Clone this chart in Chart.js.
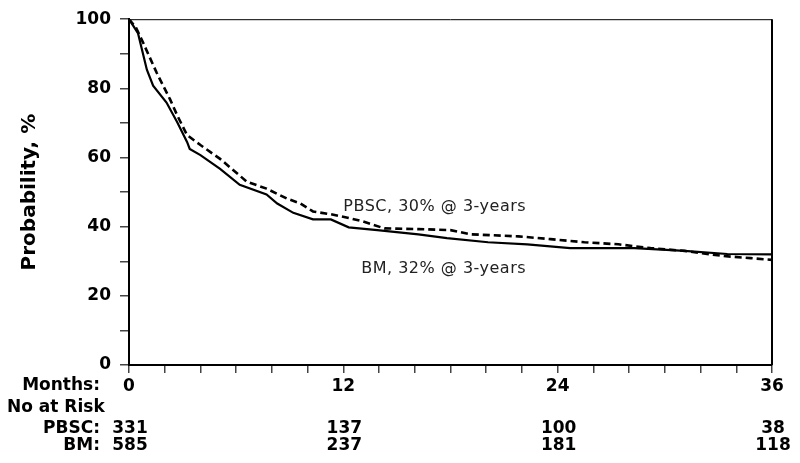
<!DOCTYPE html>
<html><head><meta charset="utf-8">
<script src="https://cdn.jsdelivr.net/npm/chart.js@4/dist/chart.umd.min.js"></script>
<style>html,body{margin:0;padding:0;background:#fff;}canvas{display:block}</style>
</head><body>
<canvas id="c" width="800" height="463"></canvas>
<script>
// ---- data ----
const bmMonths = [0, 0.5, 1.0, 1.35, 2.1, 2.7, 3.25, 3.4, 4.0, 5.1, 6.2, 7.7, 8.3, 9.2, 10.3, 11.3, 12.3, 13.9, 16.2, 17.8, 20.1, 22.3, 24.7, 28.3, 31.1, 33.5, 36];
const bmProb   = [100, 96, 85.4, 80.8, 75.9, 70.2, 64.5, 62.5, 60.7, 56.7, 52.1, 49.3, 46.7, 44.0, 42.1, 42.1, 39.8, 39.0, 37.8, 36.7, 35.5, 34.9, 33.8, 33.8, 33.0, 32.1, 32.0];
const pbscMonths = [0, 0.4, 0.8, 1.55, 2.3, 2.7, 3.25, 4.0, 5.1, 6.6, 7.7, 8.85, 9.6, 10.3, 11.3, 12.4, 13.1, 14.3, 16.2, 18, 19.1, 21.8, 23.6, 25.5, 27.4, 29.2, 31.1, 33.3, 34.8, 36];
const pbscProb   = [100, 97.5, 93.1, 84.5, 76.8, 72.2, 66.5, 63.6, 59.6, 53.0, 51.0, 48.1, 46.7, 44.4, 43.6, 42.4, 41.5, 39.5, 39.3, 39.0, 37.8, 37.2, 36.4, 35.5, 34.9, 33.8, 33.0, 31.5, 30.9, 30.4];
const xTickLabels = [0, 12, 24, 36];
const yTickLabels = [0, 20, 40, 60, 80, 100];
const riskMonths = [0, 12, 24, 36];
const pbscAtRisk = [331, 137, 100, 38];
const bmAtRisk   = [585, 237, 181, 118];
const pbscNote = 'PBSC, 30% @ 3-years';
const bmNote   = 'BM, 32% @ 3-years';

const toXY = (xs, ys) => xs.map((x, i) => ({x, y: ys[i]}));
const BOLD = 'bold 17px "DejaVu Sans"';

const framePlugin = {
  id: 'frame',
  afterDatasetsDraw(chart) {
    const {ctx, chartArea: a} = chart;
    ctx.save();
    ctx.strokeStyle = '#000';
    ctx.lineWidth = 1;
    ctx.beginPath(); ctx.moveTo(a.left, a.top + 0.5); ctx.lineTo(a.right, a.top + 0.5); ctx.stroke();
    ctx.lineWidth = 2;
    ctx.beginPath(); ctx.moveTo(a.right, a.top); ctx.lineTo(a.right, a.bottom); ctx.stroke();
    ctx.restore();
  }
};

const textPlugin = {
  id: 'texts',
  afterDraw(chart) {
    const {ctx, chartArea: a, scales} = chart;
    const xs = scales.x, ys = scales.y;
    ctx.save();
    // annotations
    ctx.font = '16px "DejaVu Sans"';
    if ('letterSpacing' in ctx) ctx.letterSpacing = '0.5px';
    ctx.fillStyle = '#222';
    ctx.textBaseline = 'middle';
    ctx.textAlign = 'left';
    ctx.fillText(pbscNote, xs.getPixelForValue(12.0), ys.getPixelForValue(45.6));
    ctx.fillText(bmNote, xs.getPixelForValue(13.0), ys.getPixelForValue(27.8));
    if ('letterSpacing' in ctx) ctx.letterSpacing = '0px';
    // table
    ctx.font = BOLD;
    ctx.fillStyle = '#000';
    const labX = 100;
    ctx.textAlign = 'right';
    ctx.fillText('Months:', labX, a.bottom + 21);
    ctx.fillText('PBSC:', labX, a.bottom + 64);
    ctx.fillText('BM:', labX, a.bottom + 81);
    ctx.textAlign = 'left';
    ctx.fillText('No at Risk', 7, a.bottom + 43);
    ctx.textAlign = 'center';
    riskMonths.forEach((m, i) => {
      const px = xs.getPixelForValue(m) + 1;
      ctx.fillText(String(pbscAtRisk[i]), px, a.bottom + 64);
      ctx.fillText(String(bmAtRisk[i]), px, a.bottom + 81);
    });
    ctx.restore();
  }
};

new Chart(document.getElementById('c'), {
  type: 'line',
  data: {
    datasets: [
      {label: 'BM', data: toXY(bmMonths, bmProb), borderColor: '#000', borderWidth: 2.2, pointRadius: 0, fill: false, tension: 0},
      {label: 'PBSC', data: toXY(pbscMonths, pbscProb), borderColor: '#000', borderWidth: 2.6, borderDash: [7, 4], pointRadius: 0, fill: false, tension: 0}
    ]
  },
  options: {
    responsive: false,
    animation: false,
    devicePixelRatio: 1,
    layout: {padding: {left: 0, right: 28, top: 16, bottom: 68}},
    plugins: {legend: {display: false}, tooltip: {enabled: false}},
    scales: {
      x: {
        type: 'linear', min: 0, max: 36,
        ticks: {
          stepSize: 2, autoSkip: false, maxRotation: 0, padding: 3, color: '#000',
          font: {family: 'DejaVu Sans', size: 17, weight: 'bold'},
          callback: v => xTickLabels.includes(v) ? String(v) : ''
        },
        grid: {drawOnChartArea: false, drawTicks: true, tickLength: 8, color: '#444', lineWidth: 1.5},
        border: {display: true, color: '#000', width: 2},
        afterFit: s => { s.height = 30; }
      },
      y: {
        min: 0, max: 100,
        ticks: {
          stepSize: 10, autoSkip: false, padding: 9, color: '#000',
          font: {family: 'DejaVu Sans', size: 17, weight: 'bold'},
          callback: v => yTickLabels.includes(v) ? String(v) : ''
        },
        grid: {drawOnChartArea: false, drawTicks: true, tickLength: 9, color: '#444', lineWidth: 1.5},
        border: {display: true, color: '#000', width: 2},
        title: {display: true, text: 'Probability, %', color: '#000',
          font: {family: 'DejaVu Sans', size: 20, weight: 'bold'}, padding: {top: 18, bottom: 0}},
        afterFit: s => { s.width = 129; }
      }
    }
  },
  plugins: [framePlugin, textPlugin]
});
</script>
</body></html>
